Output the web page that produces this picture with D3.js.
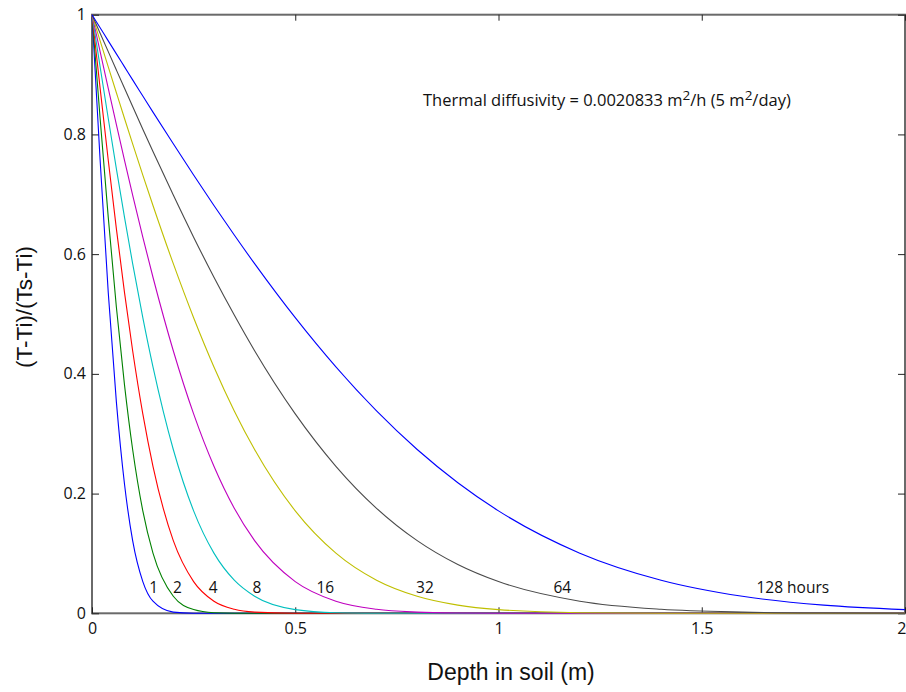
<!DOCTYPE html>
<html>
<head>
<meta charset="utf-8">
<script src="https://cdn.jsdelivr.net/npm/d3@7"></script>
<style>
  body { margin: 0; background: #ffffff; }
  svg { display: block; }
</style>
</head>
<body>
<svg id="chart" width="906" height="692"></svg>
<script>
// Depth below the surface (m) at which each profile is sampled
const depths = [0, 0.02, 0.04, 0.06, 0.08, 0.1, 0.125, 0.15, 0.2, 0.25, 0.3, 0.35, 0.4,
                0.5, 0.6, 0.7, 0.8, 0.9, 1.0, 1.2, 1.4, 1.6, 1.8, 2.0];

// Elapsed time of each profile (hours)
const hours = [1, 2, 4, 8, 16, 32, 64, 128];

// Normalised temperature (T-Ti)/(Ts-Ti) at each depth, one array per elapsed time
const ratio1h   = [1, 0.7568, 0.5356, 0.3528, 0.2155, 0.1214, 0.0530, 0.0202, 0.0020, 0.0001, 0, 0, 0,
                   0, 0, 0, 0, 0, 0, 0, 0, 0, 0, 0];
const ratio2h   = [1, 0.8266, 0.6614, 0.5112, 0.3811, 0.2736, 0.1711, 0.1005, 0.0285, 0.0062, 0.0010, 0.0001, 0,
                   0, 0, 0, 0, 0, 0, 0, 0, 0, 0, 0];
const ratio4h   = [1, 0.8770, 0.7568, 0.6423, 0.5356, 0.4386, 0.3331, 0.2456, 0.1214, 0.0530, 0.0202, 0.0067, 0.0020,
                   0.0001, 0, 0, 0, 0, 0, 0, 0, 0, 0, 0];
const ratio8h   = [1, 0.9128, 0.8266, 0.7425, 0.6614, 0.5841, 0.4938, 0.4116, 0.2736, 0.1711, 0.1005, 0.0553, 0.0285,
                   0.0062, 0.0010, 0.0001, 0, 0, 0, 0, 0, 0, 0, 0];
const ratio16h  = [1, 0.9383, 0.8770, 0.8164, 0.7568, 0.6987, 0.6284, 0.5614, 0.4386, 0.3331, 0.2456, 0.1754, 0.1214,
                   0.0530, 0.0202, 0.0067, 0.0020, 0.0005, 0.0001, 0, 0, 0, 0, 0];
const ratio32h  = [1, 0.9563, 0.9128, 0.8696, 0.8266, 0.7843, 0.7321, 0.6813, 0.5841, 0.4938, 0.4116, 0.3381, 0.2736,
                   0.1711, 0.1005, 0.0553, 0.0285, 0.0137, 0.0062, 0.0010, 0.0001, 0, 0, 0];
const ratio64h  = [1, 0.9691, 0.9383, 0.9076, 0.8770, 0.8466, 0.8088, 0.7715, 0.6987, 0.6284, 0.5614, 0.4982, 0.4386,
                   0.3331, 0.2456, 0.1754, 0.1214, 0.0815, 0.0530, 0.0202, 0.0067, 0.0020, 0.0005, 0.0001];
const ratio128h = [1, 0.9782, 0.9563, 0.9345, 0.9128, 0.8911, 0.8642, 0.8373, 0.7843, 0.7321, 0.6813, 0.6319, 0.5841,
                   0.4938, 0.4116, 0.3381, 0.2736, 0.2181, 0.1711, 0.1005, 0.0553, 0.0285, 0.0137, 0.0062];

const profiles = [ratio1h, ratio2h, ratio4h, ratio8h, ratio16h, ratio32h, ratio64h, ratio128h];

// Curve labels
const curveLabels = ["1", "2", "4", "8", "16", "32", "64", "128 hours"];

// Axis ticks
const xTicks = [0, 0.5, 1, 1.5, 2];
const yTicks = [0, 0.2, 0.4, 0.6, 0.8, 1];

// ---- layout & styling ----
const colors = ["#0000ff", "#008000", "#ff0000", "#00bfbf", "#bf00bf", "#bfbf00", "#4a4a4a", "#0000ff"];
const labelDepths = [0.1515, 0.210, 0.298, 0.406, 0.574, 0.819, 1.157, 1.724];
const labelLevel = 0.044;

const margin = { left: 92, right: 1, top: 14.7, bottom: 78.7 };
const W = 906, H = 692;
const innerW = W - margin.left - margin.right;
const innerH = H - margin.top - margin.bottom;

const svg = d3.select("#chart");
const g = svg.append("g").attr("transform", `translate(${margin.left},${margin.top})`);

const x = d3.scaleLinear().domain([0, 2]).range([0, innerW]);
const y = d3.scaleLinear().domain([0, 1]).range([innerH, 0]);

const tickFont = "'Open Sans', 'Noto Sans', sans-serif";
const fmt = d3.format("~g");

// Plot frame
g.append("rect")
  .attr("x", 0).attr("y", 0)
  .attr("width", innerW).attr("height", innerH)
  .attr("fill", "none")
  .attr("stroke", "#6a6a6a")
  .attr("stroke-width", 2);

function styleAxis(sel) {
  sel.select(".domain").remove();
  sel.selectAll(".tick line").attr("stroke", "#222").attr("stroke-width", 1);
  sel.selectAll(".tick text")
    .attr("fill", "#111")
    .style("font-family", tickFont)
    .style("font-size", "16px");
}

const bottomAxis = g.append("g")
  .attr("transform", `translate(0,${innerH})`)
  .call(d3.axisBottom(x).tickValues(xTicks).tickFormat(fmt).tickSize(-6).tickPadding(9))
  .call(styleAxis);
// keep the last label inside the canvas edge
bottomAxis.selectAll(".tick text")
  .filter(d => d === xTicks[xTicks.length - 1])
  .attr("text-anchor", "end")
  .attr("x", 1);

g.append("g")
  .call(d3.axisTop(x).tickValues(xTicks).tickFormat("").tickSize(-6))
  .call(styleAxis);

g.append("g")
  .call(d3.axisLeft(y).tickValues(yTicks).tickFormat(fmt).tickSize(-7).tickPadding(6))
  .call(styleAxis);

g.append("g")
  .attr("transform", `translate(${innerW},0)`)
  .call(d3.axisRight(y).tickValues(yTicks).tickFormat("").tickSize(-7))
  .call(styleAxis);

// Temperature profiles
const line = d3.line()
  .x((d, i) => x(depths[i]))
  .y(d => y(d))
  .curve(d3.curveMonotoneX);

g.selectAll("path.profile")
  .data(profiles)
  .join("path")
  .attr("class", "profile")
  .attr("d", line)
  .attr("fill", "none")
  .attr("stroke", (d, i) => colors[i])
  .attr("stroke-width", 1.1);

// Elapsed-time labels
g.selectAll("text.curve-label")
  .data(curveLabels)
  .join("text")
  .attr("class", "curve-label")
  .attr("x", (d, i) => x(labelDepths[i]))
  .attr("y", y(labelLevel))
  .attr("dy", "0.36em")
  .attr("text-anchor", "middle")
  .style("font-family", tickFont)
  .style("font-size", "15.5px")
  .attr("fill", "#111")
  .text(d => d);

// Diffusivity note
const note = svg.append("text")
  .attr("x", 423)
  .attr("y", 106)
  .style("font-family", tickFont)
  .style("font-size", "16.5px")
  .attr("fill", "#111");
note.append("tspan").text("Thermal diffusivity = 0.0020833 m");
note.append("tspan").attr("dy", -6).style("font-size", "13.5px").text("2");
note.append("tspan").attr("dy", 6).text("/h (5 m");
note.append("tspan").attr("dy", -6).style("font-size", "13.5px").text("2");
note.append("tspan").attr("dy", 6).text("/day)");

// Axis titles
svg.append("text")
  .attr("x", 511)
  .attr("y", 680)
  .attr("text-anchor", "middle")
  .style("font-family", "'Liberation Sans', Arial, sans-serif")
  .style("font-size", "23px")
  .attr("fill", "#111")
  .text("Depth in soil (m)");

svg.append("text")
  .attr("transform", "translate(32,307) rotate(-90)")
  .attr("text-anchor", "middle")
  .style("font-family", "'Liberation Sans', Arial, sans-serif")
  .style("font-size", "22.5px")
  .attr("fill", "#111")
  .text("(T-Ti)/(Ts-Ti)");
</script>
</body>
</html>
